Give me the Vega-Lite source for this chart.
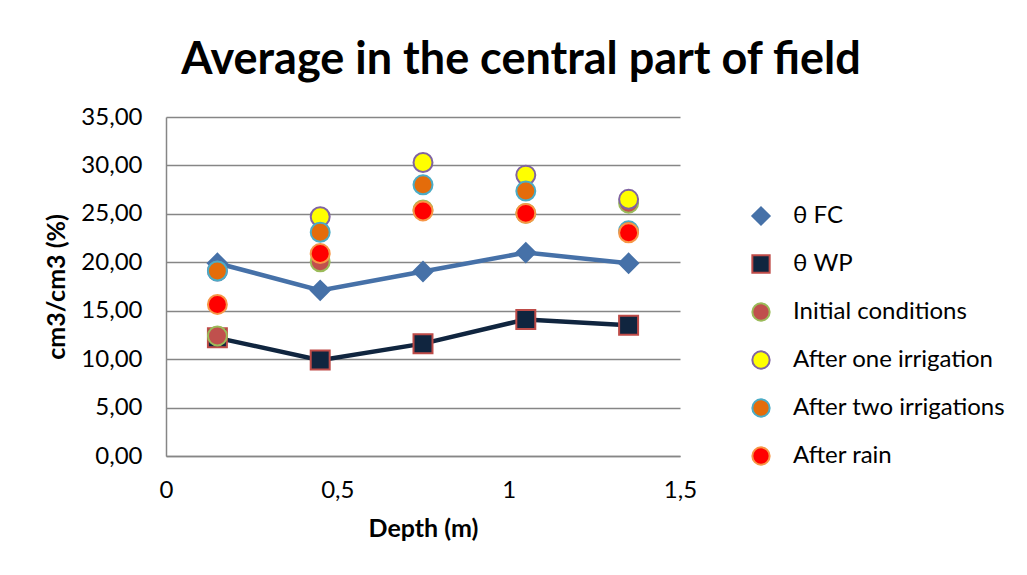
{
  "$schema": "https://vega.github.io/schema/vega-lite/v6.json",
  "autosize": {"type": "none"},
  "width": 514,
  "height": 339,
  "padding": {"left": 166, "top": 117, "right": 347, "bottom": 119},
  "background": "white",
  "title": {
    "text": "Average in the central part of field",
    "font": "Lato",
    "fontSize": 45,
    "fontWeight": "bold",
    "color": "#000000",
    "anchor": "middle",
    "frame": "group",
    "dx": 98,
    "offset": 22
  },
  "data": {
    "values": [
      {"depth": 0.15, "value": 19.9, "series": "θ FC"},
      {"depth": 0.45, "value": 17.1, "series": "θ FC"},
      {"depth": 0.75, "value": 19.05, "series": "θ FC"},
      {"depth": 1.05, "value": 21.0, "series": "θ FC"},
      {"depth": 1.35, "value": 19.9, "series": "θ FC"},
      {"depth": 0.15, "value": 12.2, "series": "θ WP"},
      {"depth": 0.45, "value": 9.9, "series": "θ WP"},
      {"depth": 0.75, "value": 11.6, "series": "θ WP"},
      {"depth": 1.05, "value": 14.1, "series": "θ WP"},
      {"depth": 1.35, "value": 13.5, "series": "θ WP"},
      {"depth": 0.15, "value": 12.4, "series": "Initial conditions"},
      {"depth": 0.45, "value": 20.05, "series": "Initial conditions"},
      {"depth": 0.75, "value": 25.4, "series": "Initial conditions"},
      {"depth": 1.05, "value": 25.05, "series": "Initial conditions"},
      {"depth": 1.35, "value": 26.1, "series": "Initial conditions"},
      {"depth": 0.15, "value": 19.1, "series": "After one irrigation"},
      {"depth": 0.45, "value": 24.7, "series": "After one irrigation"},
      {"depth": 0.75, "value": 30.3, "series": "After one irrigation"},
      {"depth": 1.05, "value": 29.0, "series": "After one irrigation"},
      {"depth": 1.35, "value": 26.5, "series": "After one irrigation"},
      {"depth": 0.15, "value": 19.1, "series": "After two irrigations"},
      {"depth": 0.45, "value": 23.1, "series": "After two irrigations"},
      {"depth": 0.75, "value": 28.0, "series": "After two irrigations"},
      {"depth": 1.05, "value": 27.35, "series": "After two irrigations"},
      {"depth": 1.35, "value": 23.25, "series": "After two irrigations"},
      {"depth": 0.15, "value": 15.65, "series": "After rain"},
      {"depth": 0.45, "value": 20.9, "series": "After rain"},
      {"depth": 0.75, "value": 25.3, "series": "After rain"},
      {"depth": 1.05, "value": 25.05, "series": "After rain"},
      {"depth": 1.35, "value": 23.05, "series": "After rain"}
    ]
  },
  "encoding": {
    "x": {
      "field": "depth",
      "type": "quantitative",
      "scale": {"domain": [0, 1.5], "nice": false, "zero": false},
      "axis": {
        "title": "Depth (m)",
        "values": [0, 0.5, 1, 1.5],
        "labelExpr": "replace(format(datum.value, '~g'), '.', ',')",
        "grid": false,
        "ticks": false,
        "labelFlush": false,
        "domainColor": "#868686",
        "domainWidth": 1.5,
        "labelPadding": 22,
        "labelFont": "Lato",
        "labelFontSize": 24,
        "labelColor": "#000000",
        "titleFont": "Lato",
        "titleFontSize": 25,
        "titleFontWeight": "bold",
        "titleColor": "#000000",
        "titlePadding": 14
      }
    },
    "y": {
      "field": "value",
      "type": "quantitative",
      "scale": {"domain": [0, 35], "nice": false},
      "axis": {
        "title": "cm3/cm3 (%)",
        "values": [0, 5, 10, 15, 20, 25, 30, 35],
        "labelExpr": "replace(format(datum.value, '.2f'), '.', ',')",
        "grid": true,
        "gridColor": "#868686",
        "gridWidth": 1.5,
        "ticks": false,
        "domainColor": "#868686",
        "domainWidth": 1.5,
        "labelPadding": 24,
        "labelFont": "Lato",
        "labelFontSize": 24,
        "labelColor": "#000000",
        "titleFont": "Lato",
        "titleFontSize": 25,
        "titleFontWeight": "bold",
        "titleColor": "#000000",
        "titlePadding": 11
      }
    }
  },
  "layer": [
    {
      "transform": [{"filter": "datum.series === 'θ FC'"}],
      "mark": {"type": "line", "color": "#4671A8", "strokeWidth": 4.5},
      "encoding": {}
    },
    {
      "transform": [{"filter": "datum.series === 'θ WP'"}],
      "mark": {"type": "line", "color": "#10253F", "strokeWidth": 4.5},
      "encoding": {}
    },
    {
      "mark": {"type": "point", "filled": true, "opacity": 1, "strokeWidth": 2, "size": 360},
      "encoding": {
        "fill": {
          "field": "series",
          "type": "nominal",
          "scale": {
            "domain": ["θ FC", "θ WP", "Initial conditions", "After one irrigation", "After two irrigations", "After rain"],
            "range": ["#4671A8", "#10253F", "#C0504D", "#FFFF00", "#E46C0A", "#FF0000"]
          },
          "legend": {
            "title": null,
            "orient": "none",
            "legendX": 583,
            "legendY": 87,
            "padding": 0,
            "rowPadding": 22,
            "symbolSize": 300,
            "symbolStrokeWidth": 2,
            "labelOffset": 20,
            "labelFont": "Lato",
            "labelFontSize": 24,
            "labelColor": "#000000",
            "labelLimit": 400
          }
        },
        "stroke": {
          "field": "series",
          "type": "nominal",
          "scale": {
            "domain": ["θ FC", "θ WP", "Initial conditions", "After one irrigation", "After two irrigations", "After rain"],
            "range": ["#4671A8", "#BE4B48", "#9BBB59", "#8064A2", "#4BACC6", "#F79646"]
          },
          "legend": {
            "title": null,
            "orient": "none",
            "legendX": 583,
            "legendY": 87,
            "padding": 0,
            "rowPadding": 22,
            "symbolSize": 300,
            "symbolStrokeWidth": 2,
            "labelOffset": 20,
            "labelFont": "Lato",
            "labelFontSize": 24,
            "labelColor": "#000000",
            "labelLimit": 400
          }
        },
        "shape": {
          "field": "series",
          "type": "nominal",
          "scale": {
            "domain": ["θ FC", "θ WP", "Initial conditions", "After one irrigation", "After two irrigations", "After rain"],
            "range": ["diamond", "square", "circle", "circle", "circle", "circle"]
          },
          "legend": {
            "title": null,
            "orient": "none",
            "legendX": 583,
            "legendY": 87,
            "padding": 0,
            "rowPadding": 22,
            "symbolSize": 300,
            "symbolStrokeWidth": 2,
            "labelOffset": 20,
            "labelFont": "Lato",
            "labelFontSize": 24,
            "labelColor": "#000000",
            "labelLimit": 400
          }
        }
      }
    }
  ],
  "config": {
    "view": {"stroke": null}
  }
}
